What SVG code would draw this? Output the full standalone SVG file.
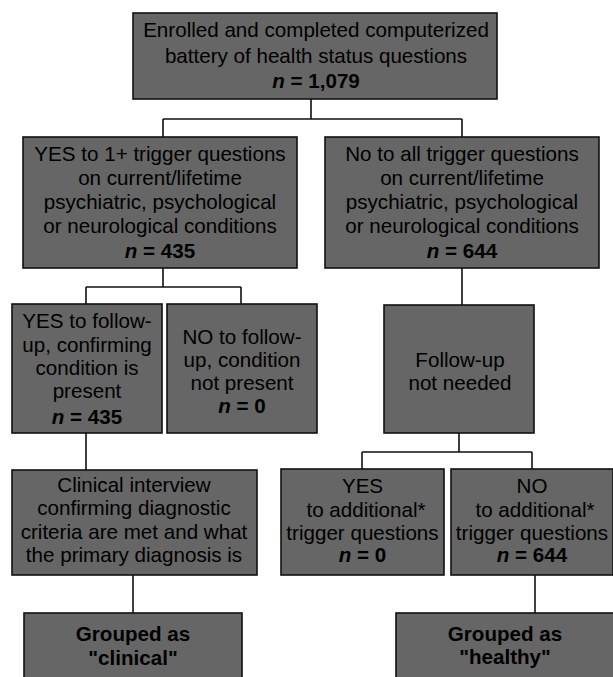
<svg xmlns="http://www.w3.org/2000/svg" width="613" height="677" viewBox="0 0 613 677">
<style>
.box{fill:#666666;stroke:#111111;stroke-width:1.6}
.t{font-family:"Liberation Sans",Arial,sans-serif;font-size:20.6px;fill:#000000;text-anchor:middle}
.b{font-weight:bold}
.i{font-style:italic;font-weight:bold}
.c{fill:none;stroke:#111111;stroke-width:1.6}
</style>
<rect width="613" height="677" fill="#ffffff"/>
<g id="connectors">
<path class="c" d="M311,99 V119 M163,119 H462 M163,119 V137 M462,119 V137"/>
<path class="c" d="M163,268 V287 M86,287 H241 M86,287 V304 M241,287 V304"/>
<path class="c" d="M462,268 V305"/>
<path class="c" d="M459,433 V452 M362,452 H532 M362,452 V469 M532,452 V469"/>
<path class="c" d="M86,433 V470"/>
<path class="c" d="M133,575 V613"/>
<path class="c" d="M535,575 V613"/>
</g>
<g id="n1">
<rect class="box" x="133" y="13" width="364" height="86"/>
<text class="t" x="316" y="37">Enrolled and completed computerized</text>
<text class="t" x="316" y="62.5">battery of health status questions</text>
<text class="t b" x="316" y="88"><tspan class="i">n</tspan> = 1,079</text>
</g>
<g id="n2">
<rect class="box" x="23" y="137" width="274" height="131"/>
<text class="t" x="160" y="161">YES to 1+ trigger questions</text>
<text class="t" x="160" y="185">on current/lifetime</text>
<text class="t" x="160" y="209">psychiatric, psychological</text>
<text class="t" x="160" y="232.5">or neurological conditions</text>
<text class="t b" x="160" y="258"><tspan class="i">n</tspan> = 435</text>
</g>
<g id="n3">
<rect class="box" x="325" y="137" width="274" height="131"/>
<text class="t" x="462" y="161">No to all trigger questions</text>
<text class="t" x="462" y="185">on current/lifetime</text>
<text class="t" x="462" y="209">psychiatric, psychological</text>
<text class="t" x="462" y="232.5">or neurological conditions</text>
<text class="t b" x="462" y="258"><tspan class="i">n</tspan> = 644</text>
</g>
<g id="n4">
<rect class="box" x="12" y="304" width="150" height="129"/>
<text class="t" x="87" y="328">YES to follow-</text>
<text class="t" x="87" y="352">up, confirming</text>
<text class="t" x="87" y="375">condition is</text>
<text class="t" x="87" y="398">present</text>
<text class="t b" x="87" y="424"><tspan class="i">n</tspan> = 435</text>
</g>
<g id="n5">
<rect class="box" x="167" y="304" width="150" height="129"/>
<text class="t" x="242" y="344">NO to follow-</text>
<text class="t" x="242" y="367">up, condition</text>
<text class="t" x="242" y="390">not present</text>
<text class="t b" x="242" y="413"><tspan class="i">n</tspan> = 0</text>
</g>
<g id="n6">
<rect class="box" x="384" y="305" width="150" height="128"/>
<text class="t" x="460" y="367">Follow-up</text>
<text class="t" x="460" y="390">not needed</text>
</g>
<g id="n7">
<rect class="box" x="12" y="470" width="245" height="105"/>
<text class="t" x="134" y="492">Clinical interview</text>
<text class="t" x="134" y="515">confirming diagnostic</text>
<text class="t" x="134" y="539">criteria are met and what</text>
<text class="t" x="134" y="562">the primary diagnosis is</text>
</g>
<g id="n8">
<rect class="box" x="281" y="469" width="163" height="106"/>
<text class="t" x="362.5" y="493">YES</text>
<text class="t" x="366" y="517">to additional*</text>
<text class="t" x="362.5" y="540">trigger questions</text>
<text class="t b" x="362.5" y="562"><tspan class="i">n</tspan> = 0</text>
</g>
<g id="n9">
<rect class="box" x="451" y="469" width="162" height="106"/>
<text class="t" x="532" y="493">NO</text>
<text class="t" x="535" y="517">to additional*</text>
<text class="t" x="532" y="540">trigger questions</text>
<text class="t b" x="532" y="562"><tspan class="i">n</tspan> = 644</text>
</g>
<g id="n10">
<rect class="box" x="24" y="613" width="218" height="80"/>
<text class="t b" x="133" y="641">Grouped as</text>
<text class="t b" x="133" y="665">"clinical"</text>
</g>
<g id="n11">
<rect class="box" x="396" y="613" width="218" height="80"/>
<text class="t b" x="505" y="641">Grouped as</text>
<text class="t b" x="505" y="664">"healthy"</text>
</g>
</svg>
